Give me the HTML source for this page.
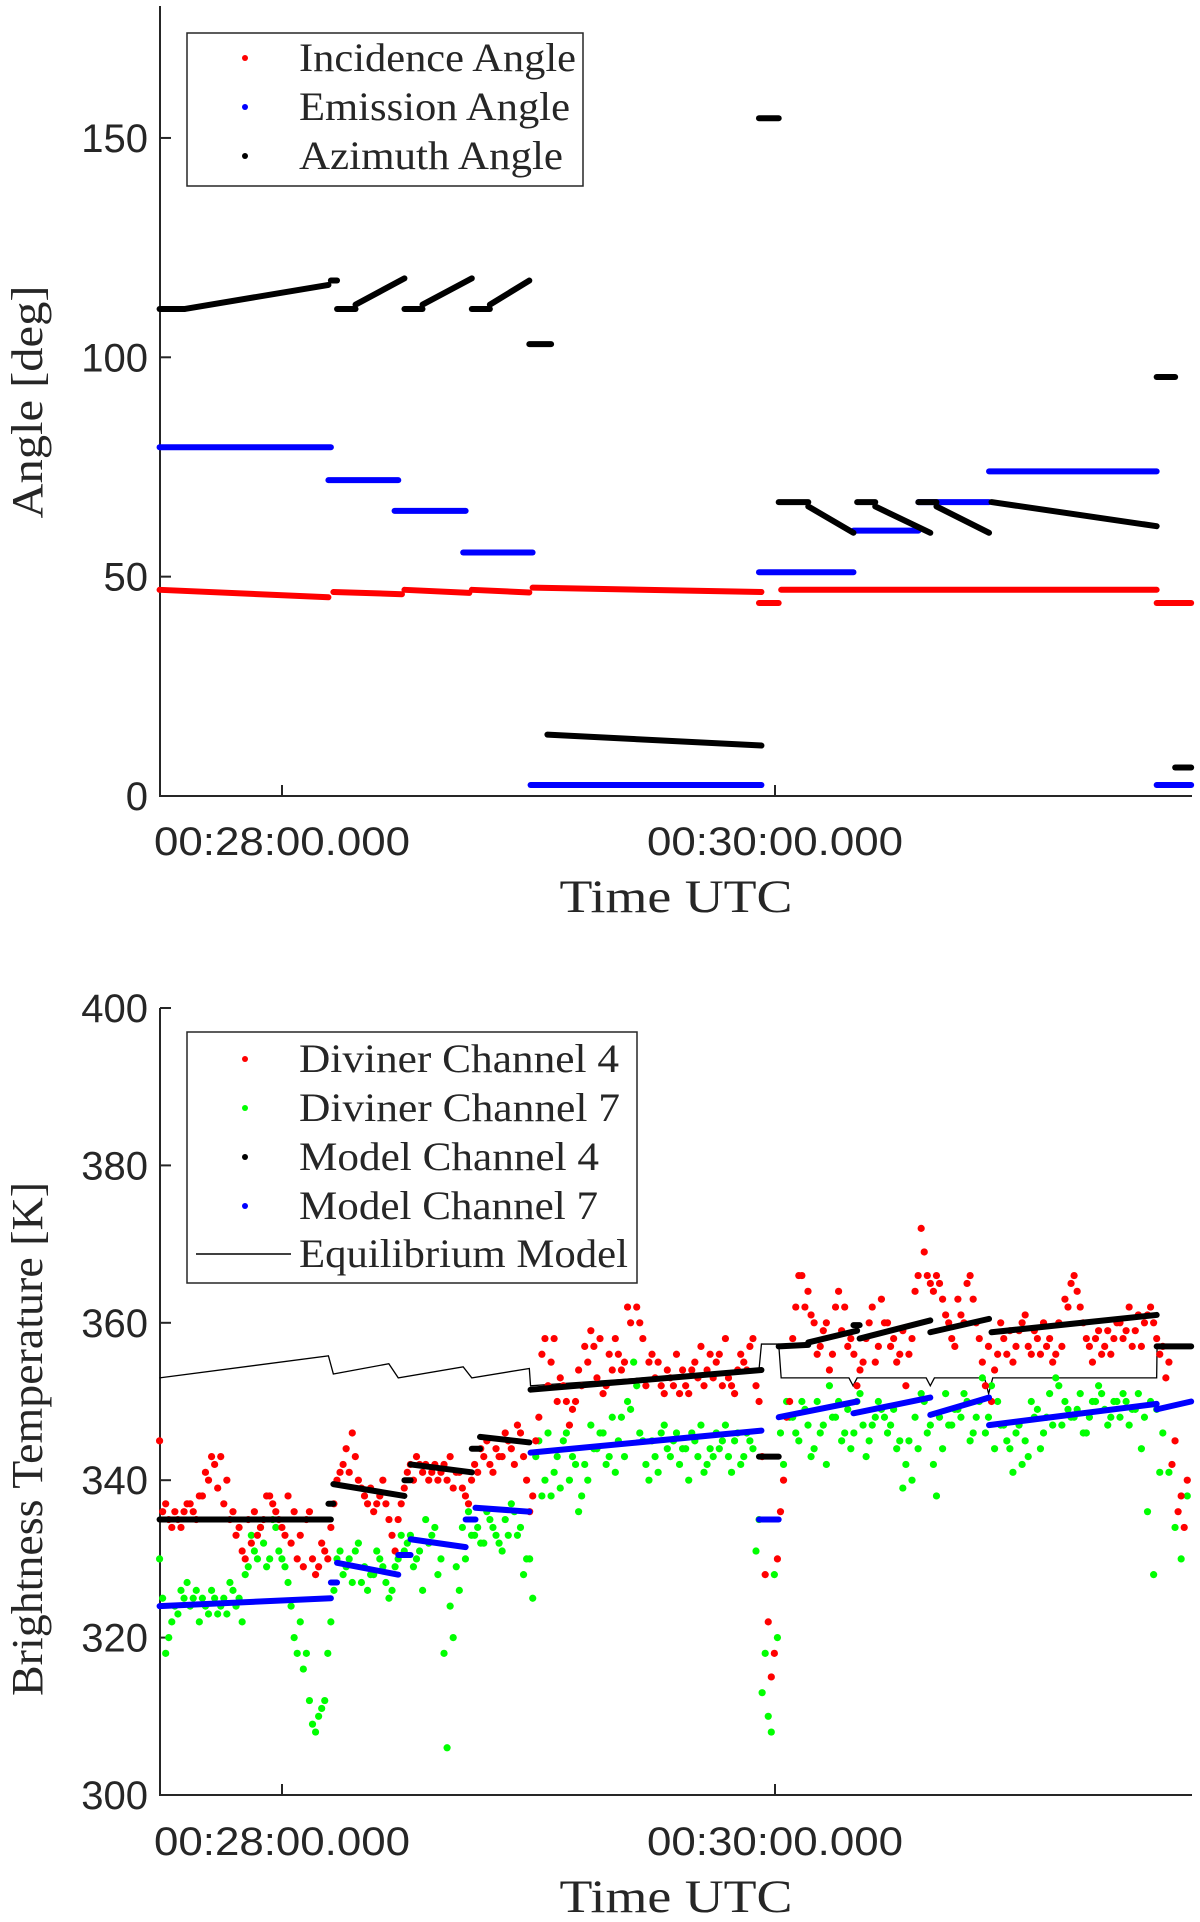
<!DOCTYPE html>
<html><head><meta charset="utf-8">
<style>
html,body{margin:0;padding:0;background:#fff;}
svg{display:block;}
.tk{font-family:"Liberation Sans",sans-serif;font-size:40px;fill:#262626;}
.sr{font-family:"Liberation Serif",serif;fill:#262626;}
</style></head>
<body>
<svg id="chart" width="1200" height="1922" viewBox="0 0 1200 1922" xmlns="http://www.w3.org/2000/svg">
<g id="topChart"></g>
<g id="botChart"></g>
</svg>
<script>
// time in seconds after 00:27:00
const xTickTimes=[60,180];
const xTickLabels=["00:28:00.000","00:30:00.000"];
const angleTicks=[0,50,100,150];
const tempTicks=[300,320,340,360,380,400];
// angle segments: [t0,t1,v0,v1]
const incidenceSegs=[[30.2,71.3,47,45.3],[72.5,89.2,46.5,46],[89.8,105.6,47,46.3],[106.2,120.2,47,46.4],[121,176.7,47.5,46.5],[176.1,180.9,44,44],[181.5,272.9,47,47],[272.9,281.3,44,44]];
const emissionSegs=[[30.2,71.9,79.5,79.5],[71.3,88.3,72,72],[87.4,104.7,65,65],[104.1,121,55.5,55.5],[120.5,176.7,2.5,2.5],[176.1,199.1,51,51],[199.1,214.9,60.5,60.5],[214.9,232.1,67,67],[232.1,272.9,74,74],[272.9,281.3,2.5,2.5]];
const azimuthSegs=[[30.2,36.2,111,111],[36.2,71.3,111,116.5],[71.9,73.4,117.5,117.5],[73.4,77.9,111,111],[77.9,89.8,112,118],[89.8,94.2,111,111],[94.2,106.2,112,118],[106.2,110.6,111,111],[110.6,120.2,112,117.5],[120.2,125.5,103,103],[124.6,176.7,14,11.5],[176.1,180.9,154.5,154.5],[180.9,188.1,67,67],[188.1,199.1,66,60],[200,204.4,67,67],[204.4,217.8,66,60],[214.9,219.3,67,67],[219.3,232.1,66,60],[232.7,272.9,67,61.5],[272.9,277.4,95.5,95.5],[277.4,281.3,6.5,6.5]];
// Diviner samples: start time and interval
const divStart=30.2, divStep=1.489;
const ch4Values=[345,337,334,335,336,337,335,338,340,342,343,340,336,334,330,332,333,335,338,336,334,338,336,333,335,330,329,331,334,340,342,341,343,339,337,336,338,337,333,335,339,342,343,341,340,342,341,340,339,341,338,340,341,343,342,344,343,345,342,346,340,338,348,358,355,350,352,347,350,352,355,357,358,352,354,356,355,360,362,358,355,353,352,354,352,351,352,354,353,352,356,355,352,353,351,356,354,358,350,328,315,330,340,350,362,366,364,360,357,360,356,364,362,358,352,355,360,355,363,360,358,356,352,358,366,369,365,366,363,360,357,361,365,363,358,352,350,356,358,359,357,360,357,359,356,357,355,360,363,365,364,360,357,358,356,359,358,360,359,357,361,360,362,358,357,355,345,338,340];
const ch4Values2=[336,335,336,334,337,336,338,341,343,339,337,335,333,331,335,336,334,338,337,335,333,332,330,329,336,328,332,330,337,341,344,346,340,338,339,337,340,335,331,337,341,340,342,342,341,340,342,343,341,339,337,342,344,345,341,343,346,344,347,343,336,345,356,352,358,353,350,349,354,357,359,353,351,356,358,354,362,366,360,352,356,355,351,353,356,354,351,355,357,354,353,356,358,352,354,355,357,352,343,322,318,336,348,358,366,362,361,356,359,354,362,359,357,356,354,358,362,357,360,357,355,359,356,364,372,366,364,365,361,358,363,360,366,360,355,357,354,360,356,355,359,361,356,358,360,358,356,357,362,366,362,358,355,359,357,356,360,358,362,359,357,361,360,356,353,342,336,334];
const ch7Values=[330,318,322,323,325,324,326,325,323,325,324,323,326,325,328,333,330,332,330,334,330,327,320,322,318,309,310,312,322,330,328,330,331,327,326,328,330,327,326,330,331,333,330,326,332,334,330,306,320,326,330,333,334,332,335,333,331,333,336,334,330,325,345,340,338,343,345,340,342,338,340,344,346,342,348,345,343,349,352,345,340,343,346,344,345,342,344,346,343,341,344,346,345,343,345,342,346,344,335,318,308,320,342,348,346,350,347,344,346,342,348,350,346,344,350,347,345,348,349,346,349,345,342,340,344,350,347,338,344,347,349,348,350,346,350,346,352,350,347,344,346,342,343,348,344,348,347,352,350,348,349,346,348,350,351,347,350,348,350,349,351,348,350,349,346,341,334,330,338];
const ch7Values2=[325,320,324,326,327,325,322,324,326,323,325,327,324,322,329,331,334,329,335,331,329,324,318,316,312,308,311,318,326,331,329,327,332,329,328,331,329,325,329,333,332,329,331,335,333,328,318,324,329,334,336,333,332,336,334,332,335,337,333,328,330,343,338,346,341,339,346,343,336,342,347,344,346,343,341,348,350,355,346,342,345,341,347,343,346,344,340,345,347,342,343,344,347,341,346,343,345,331,313,310,328,346,350,348,345,349,343,350,347,352,348,345,349,346,351,343,347,350,348,347,344,339,345,348,351,346,342,348,351,347,349,351,345,348,353,348,344,347,345,341,347,345,350,349,346,351,353,347,349,348,351,346,350,352,349,348,350,351,347,349,344,336,328,341];
const model4Segs=[[30.2,71.9,335,335],[71.3,72.5,337,337],[72.5,89.8,339.5,338],[89.8,91.3,340,340],[91.3,106.2,342,341],[106.2,108.2,344,344],[108.2,120.2,345.5,344.8],[120.5,176.7,351.5,354],[176.1,180.9,343,343],[180.9,188.1,357,357.2],[188.1,200,357.5,359],[199.1,200.6,359.7,359.7],[200.6,217.8,358,360.3],[217.8,232.1,358.8,360.5],[232.7,272.9,358.8,361],[272.9,281.3,357,357]];
const model7Segs=[[30.2,71.9,324,325],[71.9,73.4,327,327],[73.4,88.3,329.5,328],[88.3,91.3,330.5,330.5],[91.3,104.7,332.5,331.5],[104.7,107.1,335,335],[107.1,120.2,336.5,336],[120.5,176.7,343.5,346.3],[176.1,180.9,335,335],[180.9,200,348,350],[199.1,217.8,348.5,350.5],[217.8,232.1,348.3,350.5],[232.1,272.9,347,349.7],[272.9,281.3,349,350]];
// equilibrium model polyline [t,v]
const eqTimes=[30.2,71.3,72.5,86,88.3,104.1,106.2,120.2,120.5,176.1,176.7,180.9,181.5,198,199,200,216.8,217.8,218.8,231,232,233,272.9,273,281.3];
const eqValues=[353,355.8,353.5,354.8,353,354.4,353,354.2,352,354,357.3,357.3,353,353,352,353,353,352,353,353,351,353,353,357,357];

const NS="http://www.w3.org/2000/svg";
function mk(tag,attrs,parent,text){const e=document.createElementNS(NS,tag);for(const k in attrs)e.setAttribute(k,attrs[k]);if(text!==undefined)e.textContent=text;parent.appendChild(e);return e;}
const L=160,R=1192;
function xs(t){return 282+(t-60)*(493/120);}
function yA(v){return 796-v*4.387;}
function yT(v){return 1795-(v-300)*7.87;}

function axes(g,ytop,ybot,ticks,yf,xLblY,titleY,ytitle,ytitleY,ytitleLen){
  const ax=mk('path',{d:`M${L},${ytop}V${ybot}H${R}`,stroke:'#262626','stroke-width':2,fill:'none'},g);
  
  
  ticks.forEach(v=>{
    const y=yf(v);
    const t=mk('line',{x1:L,x2:L+11,y1:y,y2:y,stroke:'#262626','stroke-width':2},g);
    
    
    const lb=mk('text',{x:148,y:y+14,'text-anchor':'end',class:'tk'},g,String(v));
    
    
  });
  xTickTimes.forEach((tt,i)=>{
    const x=xs(tt);
    const t=mk('line',{x1:x,x2:x,y1:ybot,y2:ybot-11,stroke:'#262626','stroke-width':2},g);
    
    
    const lb=mk('text',{x:x,y:xLblY,'text-anchor':'middle',class:'tk',textLength:256,lengthAdjust:'spacingAndGlyphs'},g,xTickLabels[i]);
    
    
  });
  const xt=mk('text',{x:676,y:titleY,'text-anchor':'middle',class:'sr','font-size':47,textLength:233,lengthAdjust:'spacingAndGlyphs'},g,'Time UTC');
  
  
  const yt=mk('text',{x:0,y:0,'text-anchor':'middle',class:'sr','font-size':44,textLength:ytitleLen,lengthAdjust:'spacingAndGlyphs',transform:`translate(42,${ytitleY}) rotate(-90)`},g,ytitle);
  
  
}
function segs(g,arr,yf,color,w,name){
  arr.forEach(s=>{
    const l=mk('line',{x1:xs(s[0]),x2:xs(s[1]),y1:yf(s[2]),y2:yf(s[3]),stroke:color,'stroke-width':w,'stroke-linecap':'round'},g);
    
    
  });
}
function dots(g,vals,offset,color,name){
  vals.forEach((v,i)=>{
    const c=mk('circle',{cx:xs(divStart+(i+offset)*divStep),cy:yT(v),r:3.6,fill:color},g);
    
    
  });
}
function legendText(g,x,y,txt,len){
  const t=mk('text',{x:x,y:y,class:'sr','font-size':40,textLength:len,lengthAdjust:'spacingAndGlyphs'},g,txt);
  
  
}
// top chart
const topG=document.getElementById('topChart');
axes(topG,6,796,angleTicks,yA,855,912,'Angle [deg]',402,233);
segs(topG,incidenceSegs,yA,'#ff0000',6,'incidence-segment');
segs(topG,emissionSegs,yA,'#0000ff',6,'emission-segment');
segs(topG,azimuthSegs,yA,'#000000',6,'azimuth-segment');
// top legend
const lg=mk('g',{},topG);


mk('rect',{x:187,y:33,width:396,height:153,fill:'#fff',stroke:'#262626','stroke-width':1.5},lg);
[['Incidence Angle','#ff0000',58,277],['Emission Angle','#0000ff',107,271],['Azimuth Angle','#000000',156,264]].forEach(e=>{
  const c=mk('circle',{cx:245,cy:e[2],r:3,fill:e[1]},lg);
  
  
  legendText(lg,299,e[2]+13,e[0],e[3]);
});
// bottom chart
const botG=document.getElementById('botChart');
axes(botG,1008,1795,tempTicks,yT,1855,1912,'Brightness Temperature [K]',1439,514);
const eq=mk('polyline',{points:eqTimes.map((t,i)=>`${xs(t)},${yT(eqValues[i])}`).join(' '),fill:'none',stroke:'#000','stroke-width':1.3},botG);


dots(botG,ch7Values,0,'#00ff00','ch7-point');
dots(botG,ch7Values2,0.5,'#00ff00','ch7-point');
dots(botG,ch4Values,0,'#ff0000','ch4-point');
dots(botG,ch4Values2,0.5,'#ff0000','ch4-point');
segs(botG,model7Segs,yT,'#0000ff',6,'model-ch7-segment');
segs(botG,model4Segs,yT,'#000000',6,'model-ch4-segment');
// bottom legend
const lg2=mk('g',{},botG);


mk('rect',{x:187,y:1032,width:450,height:251,fill:'#fff',stroke:'#262626','stroke-width':1.5},lg2);
[['Diviner Channel 4','#ff0000',1059,320],['Diviner Channel 7','#00ff00',1108,321],['Model Channel 4','#000000',1157,300],['Model Channel 7','#0000ff',1206,299]].forEach(e=>{
  const c=mk('circle',{cx:245,cy:e[2],r:3,fill:e[1]},lg2);
  
  
  legendText(lg2,299,e[2]+13,e[0],e[3]);
});
const ll=mk('line',{x1:196,x2:291,y1:1254,y2:1254,stroke:'#000','stroke-width':1.5},lg2);


legendText(lg2,299,1267,'Equilibrium Model',329);
</script>
</body></html>
